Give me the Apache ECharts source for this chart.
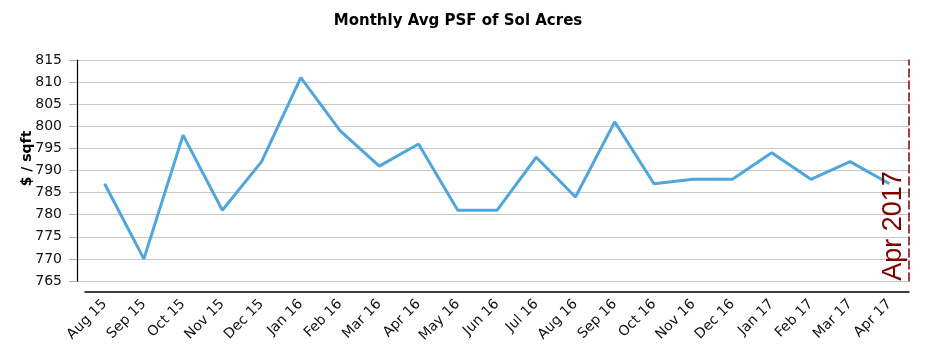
<!DOCTYPE html>
<html>
<head>
<meta charset="utf-8">
<script src="https://cdn.jsdelivr.net/npm/echarts@6/dist/echarts.min.js"></script>
<style>
  html, body { margin: 0; padding: 0; background: #fff; }
  #chart { width: 930px; height: 351px; }
</style>
</head>
<body>
<div id="chart"></div>
<script>
// 月份
const months = ['Aug 15', 'Sep 15', 'Oct 15', 'Nov 15', 'Dec 15', 'Jan 16', 'Feb 16', 'Mar 16', 'Apr 16', 'May 16',
  'Jun 16', 'Jul 16', 'Aug 16', 'Sep 16', 'Oct 16', 'Nov 16', 'Dec 16', 'Jan 17', 'Feb 17', 'Mar 17', 'Apr 17']
// 每月平均 psf
const avgPsf = [787, 770, 798, 781, 792, 811, 799, 791, 796, 781,
  781, 793, 784, 801, 787, 788, 788, 794, 788, 792, 787]
const yMin = 765
const yMax = 815
const yStep = 5
const markerText = 'Apr 2017'

const font = 'DejaVu Sans, Verdana, sans-serif'
const chart = echarts.init(document.getElementById('chart'))

const option = {
  animation: false,
  title: {
    text: 'Monthly Avg PSF of Sol Acres',
    left: 453,
    top: 9,
    textAlign: 'center',
    textStyle: { fontFamily: font, fontSize: 15, fontWeight: 'bold', color: '#000' }
  },
  grid: [
    // 网格线 + 纵轴
    { left: 77, right: 21, top: 60, bottom: 70 },
    // 折线
    { left: 85, right: 21, top: 60, bottom: 70 }
  ],
  xAxis: [
    { gridIndex: 0, type: 'value', show: false, min: 0, max: 1 },
    {
      gridIndex: 1,
      type: 'category',
      data: months,
      boundaryGap: true,
      offset: 11,
      axisLine: { lineStyle: { color: '#000', width: 1.5 } },
      axisTick: { show: false },
      axisLabel: {
        interval: 0,
        rotate: 45,
        margin: 10,
        fontFamily: font,
        fontSize: 14,
        color: '#111'
      }
    }
  ],
  yAxis: [
    {
      gridIndex: 0,
      type: 'value',
      min: yMin,
      max: yMax,
      interval: yStep,
      name: '$ / sqft',
      nameLocation: 'middle',
      nameGap: 43,
      nameMoveOverlap: false,
      nameTextStyle: { fontFamily: font, fontSize: 14, fontWeight: 'bold', color: '#000', padding: [0, 0, 0, 24] },
      axisLine: { show: true, lineStyle: { color: '#000', width: 1.2 } },
      axisTick: { show: true, length: 8, lineStyle: { color: '#aaa' } },
      axisLabel: { margin: 15, fontFamily: font, fontSize: 14, color: '#111' },
      splitLine: { show: true, lineStyle: { color: '#c6c6c6', width: 1 } }
    },
    {
      // 右侧虚线
      gridIndex: 0,
      type: 'value',
      position: 'right',
      min: yMin,
      max: yMax,
      axisLine: { show: true, lineStyle: { color: '#800000', width: 1.5, type: [8, 4] } },
      axisTick: { show: false },
      axisLabel: { show: false },
      splitLine: { show: false }
    },
    {
      gridIndex: 1,
      type: 'value',
      min: yMin,
      max: yMax,
      interval: yStep,
      show: false
    }
  ],
  series: [{
    type: 'line',
    xAxisIndex: 1,
    yAxisIndex: 2,
    data: avgPsf,
    symbol: 'none',
    lineStyle: { color: '#4ea6dc', width: 3 },
    z: 5
  }],
  graphic: [{
    type: 'text',
    x: 894,
    y: 226,
    rotation: Math.PI / 2,
    style: {
      text: markerText,
      fill: '#800000',
      font: '27px "Liberation Sans", Arial, sans-serif',
      align: 'center',
      verticalAlign: 'middle'
    },
    z: 10
  }]
}

chart.setOption(option)
</script>
</body>
</html>
